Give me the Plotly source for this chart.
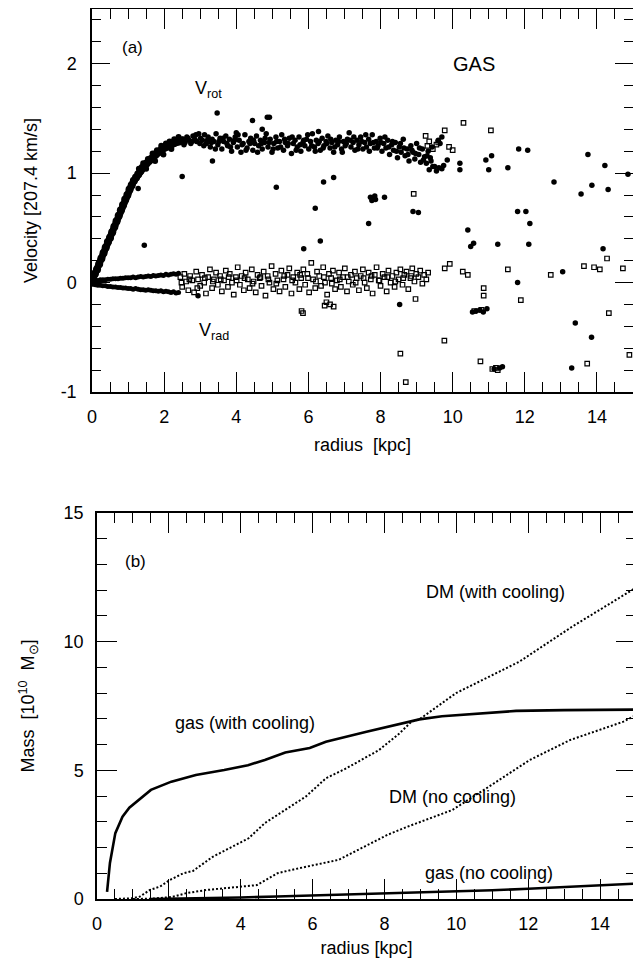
import plotly.graph_objects as go

# ---------------- Panel (a): gas velocities ----------------
# rising V_rot band (inner disk)
rot_in_r = [0.02,0.08,0.14,0.2,0.26,0.32,0.38,0.44,0.5,0.56,0.62,0.68,0.74,0.8,0.86,0.92,0.98,1.04,1.1,1.16,
            1.22,1.28,1.34,1.4,1.46,1.52,1.58,1.64,1.7,1.76,1.82,1.88,1.94,2.0,2.06,2.12,2.18,2.24,2.3,2.36,2.42,2.5]
rot_in_v = [0.03,0.08,0.12,0.17,0.22,0.27,0.32,0.37,0.41,0.46,0.51,0.56,0.61,0.66,0.71,0.76,0.80,0.85,0.89,0.93,
            0.96,0.99,1.02,1.05,1.07,1.09,1.11,1.13,1.15,1.17,1.19,1.20,1.22,1.23,1.24,1.25,1.26,1.27,1.28,1.29,1.29,1.30]
rot_in2_r = [1.3,1.42,1.55,1.68,1.8,1.92,2.05,2.15,2.28,2.4,1.5,1.75,1.98,2.2]
rot_in2_v = [1.04,1.09,1.13,1.18,1.21,1.25,1.27,1.29,1.31,1.33,1.04,1.11,1.17,1.22]

# flat V_rot band
rot_out_r = [2.52,2.58,2.63,2.69,2.74,2.8,2.85,2.9,2.96,3.01,
             3.06,3.12,3.17,3.22,3.28,3.33,3.38,3.44,3.49,3.55,
             3.6,3.65,3.71,3.76,3.81,3.87,3.92,3.97,4.03,4.08,
             4.13,4.19,4.24,4.3,4.35,4.4,4.46,4.51,4.56,4.62,
             4.67,4.72,4.78,4.83,4.88,4.94,4.99,5.04,5.1,5.15,
             5.2,5.26,5.31,5.36,5.42,5.47,5.53,5.58,5.63,5.69,
             5.74,5.79,5.85,5.9,5.95,6.01,6.06,6.11,6.17,6.22,
             6.27,6.33,6.38,6.43,6.49,6.54,6.6,6.65,6.7,6.76,
             6.81,6.86,6.92,6.97,7.02,7.08,7.13,7.18,7.24,7.29,
             7.35,7.4,7.45,7.51,7.56,7.61,7.67,7.72,7.77,7.83,
             7.88,7.93,7.99,8.04,8.09,8.15,8.2,8.25,8.31,8.36,
             8.41,8.47,8.52,8.57,8.63,8.68,8.74,8.79,8.84,8.9,
             8.95,9.0,9.06,9.11,9.16,9.22,9.27,9.32,9.38,9.43,
             2.55,2.66,2.77,2.88,2.99,3.1,3.2,3.31,3.42,3.52,
             3.63,3.74,3.84,3.95,4.05,4.16,4.27,4.38,4.48,4.59,
             4.7,4.8,4.91,5.02,5.12,5.23,5.34,5.44,5.55,5.66,
             5.77,5.87,5.98,6.09,6.19,6.3,6.41,6.51,6.62,6.73,
             6.84,6.94,7.05,7.16,7.26,7.37,7.48,7.59,7.69,7.8,
             7.91,8.01,8.12,8.23,8.33,8.44,8.55,8.65,8.76,8.87,
             8.97,9.08,9.19,9.29,9.4,9.5,
             9.6,9.65,9.7,9.62,9.7,9.75,9.55,9.85,9.35,9.45]
rot_out_v = [1.31,1.28,1.33,1.30,1.27,1.34,1.31,1.29,1.36,1.32,
             1.30,1.35,1.27,1.33,1.24,1.31,1.29,1.36,1.26,1.32,
             1.22,1.29,1.34,1.25,1.31,1.20,1.28,1.33,1.24,1.30,
             1.19,1.27,1.35,1.23,1.29,1.32,1.21,1.27,1.34,1.25,
             1.30,1.22,1.28,1.36,1.24,1.31,1.19,1.27,1.33,1.23,
             1.29,1.35,1.21,1.28,1.25,1.32,1.18,1.27,1.30,1.24,
             1.33,1.20,1.28,1.25,1.31,1.22,1.29,1.36,1.24,1.30,
             1.27,1.21,1.32,1.25,1.29,1.34,1.23,1.28,1.19,1.30,
             1.26,1.33,1.22,1.29,1.25,1.31,1.37,1.24,1.28,1.21,
             1.30,1.26,1.33,1.22,1.28,1.24,1.31,1.27,1.35,1.23,
             1.29,1.25,1.32,1.20,1.27,1.23,1.30,1.17,1.26,1.21,
             1.28,1.14,1.24,1.19,1.31,1.16,1.22,1.11,1.25,1.19,
             1.13,1.27,1.17,1.10,1.22,1.15,1.09,1.20,1.14,1.24,
             1.26,1.32,1.29,1.35,1.27,1.25,1.30,1.28,1.22,1.29,
             1.32,1.27,1.24,1.30,1.35,1.26,1.21,1.27,1.30,1.19,
             1.27,1.32,1.28,1.22,1.29,1.24,1.31,1.27,1.33,1.21,
             1.26,1.30,1.35,1.25,1.20,1.29,1.23,1.27,1.31,1.24,
             1.29,1.19,1.27,1.30,1.33,1.22,1.29,1.35,1.20,1.28,
             1.23,1.28,1.33,1.24,1.29,1.20,1.27,1.23,1.17,1.21,
             1.18,1.23,1.12,1.16,1.11,1.06,
             1.30,1.27,1.33,1.05,1.04,1.07,1.02,1.12,1.03,1.06]

# isolated V_rot particles
rot_iso_r = [3.47,4.45,4.72,4.86,4.92,3.34,2.5,1.45,1.28,5.11,6.42,6.19,6.33,5.87,4.0,6.28,6.7,7.67,7.72,7.76,
             7.8,7.84,7.86,8.11,8.9,9.05,8.53,10.42,10.5,10.58,11.25,12.11,11.8,12.03,12.14,11.83,12.08,10.92,11.08,11.0,
             11.53,10.2,10.2,12.81,13.56,13.86,14.31,13.75,14.22,14.86,14.17,11.8,13.05,13.4,13.85,13.3,2.94,10.55,10.65,10.75,
             10.85,10.95,11.15,11.3,11.38]
rot_iso_v = [1.55,1.48,1.40,1.51,1.51,1.11,0.97,0.34,0.86,0.87,0.92,0.68,0.38,0.31,1.37,1.38,0.96,0.54,0.78,0.75,
             0.77,0.79,0.76,0.78,0.65,0.64,-0.20,0.48,0.33,0.36,0.35,0.35,0.65,0.65,0.54,1.22,1.21,1.12,1.16,1.03,
             1.05,1.09,1.03,0.92,0.81,0.89,0.85,1.17,1.07,0.99,0.31,0.0,0.10,-0.37,-0.50,-0.78,-0.12,-0.27,-0.26,-0.25,
             -0.27,-0.24,-0.79,-0.78,-0.77]

# inner V_rad band (dense)
rad_in_r = [0.02,0.09,0.16,0.23,0.3,0.37,0.44,0.51,0.58,0.65,0.72,0.79,0.86,0.93,1.0,1.07,1.14,1.21,
            1.28,1.35,1.42,1.49,1.56,1.63,1.7,1.77,1.84,1.91,1.98,2.05,2.12,2.19,2.26,2.33,2.4]
rad_in_hi = [0.015,0.02,0.02,0.025,0.025,0.025,0.03,0.03,0.035,0.035,0.035,0.04,0.04,0.045,0.045,0.045,0.05,0.045,
             0.05,0.055,0.05,0.055,0.06,0.055,0.065,0.06,0.065,0.07,0.065,0.075,0.07,0.075,0.08,0.075,0.085]
rad_in_lo = [-0.015,-0.02,-0.025,-0.025,-0.03,-0.03,-0.035,-0.035,-0.04,-0.04,-0.045,-0.045,-0.05,-0.05,-0.055,-0.055,-0.06,-0.055,
             -0.06,-0.065,-0.065,-0.07,-0.065,-0.07,-0.075,-0.075,-0.08,-0.075,-0.085,-0.08,-0.085,-0.09,-0.085,-0.095,-0.09]

# outer V_rad band (open squares)
rad_out_r = [2.45,2.5,2.56,2.61,2.67,2.72,2.78,2.83,2.89,2.94,
             3.0,3.05,3.11,3.16,3.22,3.27,3.33,3.38,3.44,3.49,
             3.55,3.6,3.66,3.71,3.77,3.82,3.88,3.93,3.99,4.04,
             4.1,4.15,4.21,4.26,4.32,4.37,4.43,4.48,4.54,4.59,
             4.65,4.7,4.76,4.81,4.87,4.92,4.98,5.03,5.09,5.14,
             5.2,5.25,5.31,5.36,5.42,5.47,5.53,5.58,5.64,5.69,
             5.75,5.8,5.86,5.91,5.97,6.02,6.08,6.13,6.19,6.24,
             6.3,6.35,6.41,6.46,6.52,6.57,6.63,6.68,6.74,6.79,
             6.85,6.9,6.96,7.01,7.07,7.12,7.18,7.23,7.29,7.34,
             7.4,7.45,7.51,7.56,7.62,7.67,7.73,7.78,7.84,7.89,
             7.95,8.0,8.06,8.11,8.17,8.22,8.28,8.33,8.39,8.44,
             8.5,8.55,8.61,8.66,8.72,8.77,8.83,8.88,8.94,8.99,
             9.05,9.1,9.16,9.21,9.27,9.32,
             2.48,2.7,2.92,3.13,3.35,3.57,3.79,4.01,4.23,4.45,
             4.67,4.89,5.11,5.33,5.55,5.77,5.99,6.21,6.43,6.65,
             6.87,7.09,7.31,7.53,7.75,7.97,8.19,8.41,8.63,8.85]
rad_out_v = [0.05,-0.04,0.08,0.01,-0.07,0.06,0.02,-0.09,0.10,0.03,
             -0.03,0.07,0.0,-0.10,0.05,0.12,-0.05,0.03,0.09,-0.02,
             0.06,-0.08,0.02,0.11,-0.04,0.08,0.0,-0.11,0.05,0.14,
             -0.02,0.06,-0.07,0.09,0.03,-0.05,0.12,0.01,-0.09,0.07,
             0.04,-0.03,0.10,-0.12,0.06,0.0,0.15,-0.06,0.08,0.02,
             -0.08,0.11,0.03,-0.04,0.07,0.13,-0.10,0.05,0.0,0.09,
             -0.06,0.04,0.12,-0.02,0.08,-0.09,0.18,0.03,-0.05,0.10,
             0.06,-0.03,0.14,0.0,-0.11,0.08,0.04,0.11,-0.06,0.02,
             0.09,-0.04,0.05,0.13,-0.08,0.01,0.07,-0.02,0.10,0.04,
             -0.07,0.06,0.12,0.0,-0.05,0.09,0.03,-0.10,0.07,0.14,
             0.02,-0.03,0.08,0.05,-0.08,0.11,0.0,0.06,-0.04,0.09,
             0.03,0.12,-0.02,0.07,0.10,-0.06,0.04,0.13,0.01,0.08,
             0.05,0.11,-0.01,0.07,0.03,0.09,
             0.0,0.03,-0.05,0.04,0.01,0.03,0.05,0.02,0.04,-0.01,
             0.05,0.03,-0.01,0.06,0.02,0.07,0.04,0.01,0.05,-0.01,
             0.03,0.05,0.0,0.04,0.06,0.02,0.05,0.01,0.04,0.06]

# isolated V_rad particles
rad_iso_r = [10.3,11.06,9.78,9.25,9.3,9.35,9.45,9.55,9.9,10.0,9.6,8.92,9.78,9.92,10.28,10.42,10.86,10.86,11.53,11.89,
             12.72,13.64,13.92,14.08,14.28,14.72,14.33,8.97,5.85,6.5,6.6,6.7,6.45,5.81,9.77,8.55,8.7,10.77,13.73,14.9,
             11.1,11.2,11.25,10.6,10.8]
rad_iso_v = [1.46,1.39,1.39,1.34,1.25,1.29,1.22,1.26,1.24,1.21,1.28,0.81,0.13,0.17,0.10,0.07,-0.05,-0.12,0.12,-0.16,
             0.07,0.15,0.14,0.12,0.22,0.13,-0.28,-0.15,-0.28,-0.18,-0.20,-0.22,-0.21,-0.26,-0.53,-0.65,-0.91,-0.72,-0.74,-0.66,
             -0.79,-0.78,-0.80,-0.26,-0.25]

# tick labels of the velocity axis
vel_tickvals = [-1, 0, 1, 2]
vel_ticktext = ["-1", "0", "1", "2"]

# ---------------- Panel (b): enclosed mass ----------------
gas_cool_r = [0.28,0.36,0.51,0.71,0.9,1.16,1.5,2.07,2.75,3.54,4.2,4.67,5.24,5.92,6.37,7.5,8.64,8.97,9.6,10.64,11.66,13.0,15.0]
gas_cool_m = [0.28,1.4,2.56,3.2,3.55,3.85,4.24,4.56,4.82,5.01,5.2,5.4,5.69,5.87,6.11,6.5,6.89,6.98,7.1,7.22,7.31,7.34,7.36]
dm_cool_r = [0.5,0.8,1.0,1.19,1.47,1.75,2.03,2.4,2.67,3.22,3.97,4.22,4.67,5.24,5.81,6.37,6.94,7.85,8.42,8.75,8.97,9.99,11.75,13.22,15.0]
dm_cool_m = [0.0,0.01,0.03,0.09,0.35,0.48,0.74,1.0,1.09,1.64,2.17,2.36,2.95,3.46,3.98,4.69,5.08,5.79,6.44,6.89,6.98,8.0,9.22,10.58,12.1]
dm_nocool_r = [1.0,1.5,2.1,2.49,3.05,3.97,4.45,5.02,5.47,6.72,7.17,8.08,8.64,9.89,10.9,12.04,13.17,14.65,15.0]
dm_nocool_m = [0.0,0.01,0.08,0.23,0.35,0.48,0.54,1.0,1.15,1.52,1.84,2.49,2.81,3.46,4.36,5.40,6.18,6.89,7.15]
gas_nocool_r = [1.5,2.0,3.0,4.0,5.0,6.0,7.0,8.0,9.0,10.0,11.0,12.0,13.0,14.0,15.0]
gas_nocool_m = [0.0,0.01,0.03,0.06,0.1,0.14,0.18,0.22,0.26,0.29,0.34,0.40,0.46,0.52,0.6]

FONT = "Liberation Sans, Arial, Helvetica, sans-serif"
BLK = "black"

# the page body has an 8px margin, so the figure is laid out in window pixels minus that offset
OFF = 8
W, H = 641 - OFF, 958 - OFF
def xd(p): return min(1.0, max(0.0, (p - OFF) / W))
def yd(p): return min(1.0, max(0.0, 1 - (p - OFF) / H))

fig = go.Figure()

def dots(x, y, size, ax="x", ay="y", mode="markers", lw=0):
    fig.add_trace(go.Scatter(x=x, y=y, mode=mode, xaxis=ax, yaxis=ay, showlegend=False, hoverinfo="skip",
                             line=dict(color=BLK, width=lw),
                             marker=dict(symbol="circle", size=size, color=BLK, line=dict(width=0))))

def squares(x, y, size):
    fig.add_trace(go.Scatter(x=x, y=y, mode="markers", showlegend=False, hoverinfo="skip",
                             marker=dict(symbol="square-open", size=size, color=BLK, line=dict(width=1.2, color=BLK))))

# inner radial-velocity band: filled between its upper and lower envelope
fig.add_trace(go.Scatter(x=rad_in_r, y=rad_in_lo, mode="markers", showlegend=False, hoverinfo="skip",
                         marker=dict(size=5, color=BLK)))
fig.add_trace(go.Scatter(x=rad_in_r, y=rad_in_hi, mode="markers", fill="tonexty", fillcolor=BLK,
                         showlegend=False, hoverinfo="skip", marker=dict(size=5, color=BLK)))
squares(rad_out_r, rad_out_v, 4.5)
squares(rad_iso_r, rad_iso_v, 4.5)
dots(rot_in_r, rot_in_v, 8, mode="lines+markers", lw=7)
dots(rot_in2_r, rot_in2_v, 6)
dots(rot_out_r, rot_out_v, 5.5)
dots(rot_iso_r, rot_iso_v, 5.5)

def curve(x, y, dash, width):
    fig.add_trace(go.Scatter(x=x, y=y, mode="lines", xaxis="x2", yaxis="y2", showlegend=False, hoverinfo="skip",
                             line=dict(color=BLK, width=width, dash=dash)))

curve(gas_cool_r, gas_cool_m, "solid", 2.6)
curve(gas_nocool_r, gas_nocool_m, "solid", 2.6)
curve(dm_cool_r, dm_cool_m, "2px,2px", 2)
curve(dm_nocool_r, dm_nocool_m, "2px,2px", 2)

tickfont = dict(family=FONT, size=18, color=BLK)
common = dict(showline=True, linecolor=BLK, linewidth=1.5, mirror="allticks", ticks="inside",
              tickcolor=BLK, tickwidth=1.2, showgrid=False, zeroline=False, tickfont=tickfont,
              automargin=False)
title_font = dict(family=FONT, size=18, color=BLK)

fig.update_layout(
    template="none",
    width=W, height=H, margin=dict(l=0, r=0, t=0, b=0, pad=0),
    paper_bgcolor="white", plot_bgcolor="white",
    font=dict(family=FONT, color=BLK),
    xaxis=dict(domain=[xd(92), xd(633)], anchor="y", range=[0, 15], dtick=2, tick0=0, ticklen=20,
               minor=dict(dtick=0.5, ticklen=10, ticks="inside", tickcolor=BLK, tickwidth=1.2),
               ticklabelstandoff=8,
               title=dict(text="radius  [kpc]", font=title_font, standoff=12), **common),
    yaxis=dict(domain=[yd(392), yd(9)], anchor="x", range=[-1, 2.5],
               tickmode="array", tickvals=vel_tickvals, ticktext=vel_ticktext, ticklen=18,
               minor=dict(dtick=0.2, tick0=0, ticklen=9, ticks="inside", tickcolor=BLK, tickwidth=1.2),
               ticklabelstandoff=10,
               title=dict(text="Velocity [207.4 km/s]", font=title_font, standoff=18), **common),
    xaxis2=dict(domain=[xd(97), xd(636)], anchor="y2", range=[0, 15], dtick=2, tick0=0, ticklen=20,
                minor=dict(dtick=0.5, ticklen=10, ticks="inside", tickcolor=BLK, tickwidth=1.2),
                ticklabelstandoff=8,
                title=dict(text="radius [kpc]", font=title_font, standoff=12), **common),
    yaxis2=dict(domain=[yd(899), yd(513)], anchor="x2", range=[0, 15], dtick=5, tick0=0, ticklen=20,
                minor=dict(dtick=1, ticklen=10, ticks="inside", tickcolor=BLK, tickwidth=1.2),
                ticklabelstandoff=8,
                title=dict(text="Mass  [10<sup>10</sup>  M<sub>⊙</sub>]", font=title_font, standoff=24), **common),
)

def note(x, y, text, size, xref="x", yref="y"):
    fig.add_annotation(x=x, y=y, xref=xref, yref=yref, text=text, showarrow=False,
                       font=dict(family=FONT, size=size, color=BLK), xanchor="center", yanchor="middle")

note(1.11, 2.15, "(a)", 17)
note(10.58, 2.0, "GAS", 20)
note(3.22, 1.76, "V<sub>rot</sub>", 18)
note(3.39, -0.45, "V<sub>rad</sub>", 18)

note(1.06, 13.1, "(b)", 17, "x2", "y2")
note(11.1, 11.93, "DM (with cooling)", 18, "x2", "y2")
note(4.11, 6.84, "gas (with cooling)", 18, "x2", "y2")
note(9.89, 3.96, "DM (no cooling)", 18, "x2", "y2")
note(10.9, 1.0, "gas (no cooling)", 18, "x2", "y2")

fig.write_html("out.html")
